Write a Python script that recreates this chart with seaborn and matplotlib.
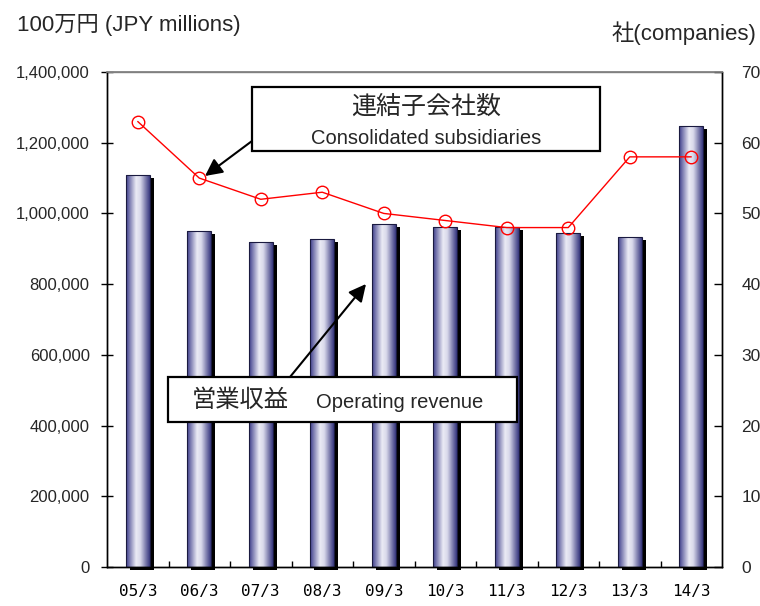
import numpy as np
import pandas as pd
import matplotlib
matplotlib.use("Agg")
import matplotlib.pyplot as plt
import seaborn as sns
from matplotlib.patches import Rectangle, FancyArrowPatch
from matplotlib.colors import LinearSegmentedColormap
from matplotlib.ticker import FuncFormatter, FixedLocator
import matplotlib.transforms as mtransforms

# ---- data ----
periods = ["05/3", "06/3", "07/3", "08/3", "09/3", "10/3", "11/3", "12/3", "13/3", "14/3"]
operating_revenue = [1108000, 950000, 918000, 927000, 970000, 962000, 962000, 945000, 933000, 1248000]
subsidiaries = [63, 55, 52, 53, 50, 49, 48, 48, 58, 58]
left_ticks = [0, 200000, 400000, 600000, 800000, 1000000, 1200000, 1400000]
right_ticks = [0, 10, 20, 30, 40, 50, 60, 70]

sns.set_theme(style="white")
plt.rcParams["font.family"] = ["Liberation Sans", "Noto Sans CJK JP", "DejaVu Sans"]

W, H = 760, 606
fig = plt.figure(figsize=(W / 100, H / 100), dpi=100)
fig.patch.set_facecolor("white")

def fx(x):
    return x / W

def fy(y):
    return 1 - y / H

ax = fig.add_axes([fx(107), fy(567), (722 - 107) / W, (567 - 72) / H])
ax.set_facecolor("white")

df = pd.DataFrame({"period": periods, "revenue": operating_revenue})
sns.barplot(data=df, x="period", y="revenue", ax=ax, width=0.39,
            color="#8080b0", edgecolor="#1a1a40", linewidth=0.8, zorder=3)

cmap = LinearSegmentedColormap.from_list(
    "bargrad",
    [(0.0, (0.25, 0.25, 0.55)), (0.42, (0.92, 0.92, 0.96)),
     (0.6, (0.85, 0.85, 0.92)), (1.0, (0.22, 0.22, 0.50))])
grad = np.linspace(0, 1, 64).reshape(1, -1)
shadow_tr = mtransforms.offset_copy(ax.transData, fig=fig, x=4, y=-3, units="dots")

for p in list(ax.patches):
    x0, w, h = p.get_x(), p.get_width(), p.get_height()
    p.set_facecolor("none")
    sh = Rectangle((x0, 0), w, h, transform=shadow_tr, facecolor="black",
                   edgecolor="none", zorder=2, clip_on=False)
    ax.add_patch(sh)
    im = ax.imshow(grad, cmap=cmap, extent=[x0, x0 + w, 0, h], aspect="auto",
                   zorder=2.5, interpolation="bilinear")
    im.set_clip_path(p)

ax.set_xlim(-0.5, len(periods) - 0.5)
ax.set_ylim(0, 1400000)
ax.yaxis.set_major_locator(FixedLocator(left_ticks))
ax.yaxis.set_major_formatter(FuncFormatter(lambda v, pos: f"{int(v):,}"))
ax.set_xlabel("")
ax.set_ylabel("")

ax.set_xticks(range(len(periods)))
ax.set_xticklabels(periods, family="DejaVu Sans Mono", fontsize=11.5)
ax.set_xticks(np.arange(0.5, len(periods) - 1, 1.0), minor=True)
ax.tick_params(axis="x", which="major", length=0, pad=12, colors="black")
ax.tick_params(axis="x", which="minor", direction="in", length=4, width=1,
               color="black", bottom=True)
ax.tick_params(axis="y", direction="inout", length=9, width=1, color="black",
               labelsize=12, pad=8, left=True)

for side in ["left", "bottom", "right"]:
    ax.spines[side].set_color("black")
    ax.spines[side].set_linewidth(1)
ax.spines["top"].set_color("#808080")
ax.spines["top"].set_linewidth(1)

ax2 = ax.twinx()
sns.lineplot(x=periods, y=subsidiaries, ax=ax2, color="red", linewidth=1,
             marker="o", markersize=9, markerfacecolor="none",
             markeredgecolor="red", markeredgewidth=1, zorder=5)
ax2.set_ylim(0, 70)
ax2.yaxis.set_major_locator(FixedLocator(right_ticks))
ax2.set_ylabel("")
ax2.tick_params(axis="y", direction="in", length=6, width=1, color="black",
                labelsize=12.5, pad=14, right=True)
for side in ["left", "bottom", "right"]:
    ax2.spines[side].set_color("black")
    ax2.spines[side].set_linewidth(1)
ax2.spines["top"].set_color("#808080")
ax2.grid(False)
ax.grid(False)

fig.text(fx(17), fy(25), "100万円 (JPY millions)", fontsize=16, ha="left", va="center")
fig.text(fx(756), fy(33), "社(companies)", fontsize=16, ha="right", va="center")

fig.add_artist(Rectangle((fx(252), fy(151)), fx(600) - fx(252), fy(87) - fy(151),
                         transform=fig.transFigure, facecolor="white",
                         edgecolor="black", linewidth=1.6, zorder=10))
fig.text(fx(426), fy(107), "連結子会社数", fontsize=18, ha="center", va="center", zorder=11)
fig.text(fx(426), fy(138), "Consolidated subsidiaries", fontsize=14.5,
         ha="center", va="center", zorder=11)
fig.add_artist(FancyArrowPatch((fx(252), fy(141)), (fx(205), fy(176)),
                               transform=fig.transFigure, arrowstyle="-|>",
                               mutation_scale=26, linewidth=1.5, color="black",
                               shrinkA=0, shrinkB=0, zorder=12))

fig.add_artist(Rectangle((fx(168), fy(422)), fx(517) - fx(168), fy(377) - fy(422),
                         transform=fig.transFigure, facecolor="white",
                         edgecolor="black", linewidth=1.6, zorder=10))
fig.text(fx(192), fy(401), "営業収益", fontsize=17.5, ha="left", va="center", zorder=11)
fig.text(fx(316), fy(403), "Operating revenue", fontsize=14.5, ha="left",
         va="center", zorder=11)
fig.add_artist(FancyArrowPatch((fx(290), fy(377)), (fx(366), fy(284)),
                               transform=fig.transFigure, arrowstyle="-|>",
                               mutation_scale=26, linewidth=1.5, color="black",
                               shrinkA=0, shrinkB=0, zorder=12))

fig.savefig("out.png", dpi=100, facecolor="white")
